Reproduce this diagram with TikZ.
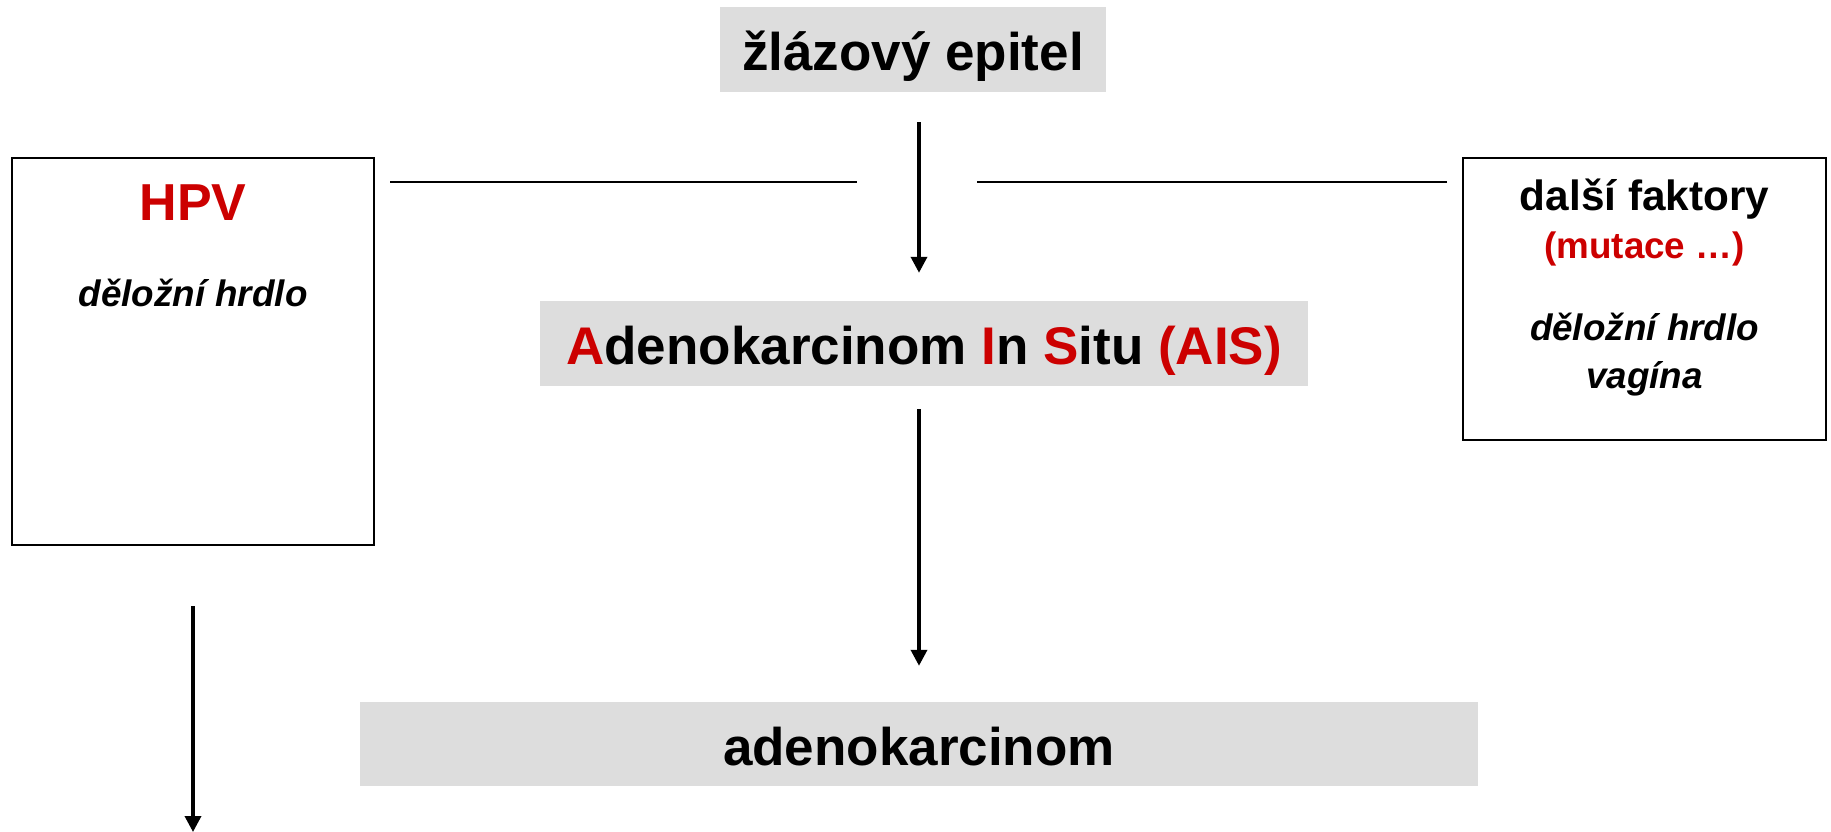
\documentclass[tikz,border=0pt]{standalone}
\usepackage{fontspec}
\setmainfont{Liberation Sans}
\usetikzlibrary{arrows.meta}
\definecolor{accent}{HTML}{CC0000}
\definecolor{panel}{HTML}{DDDDDD}
\newcommand\hl[1]{\textcolor{accent}{#1}}

\begin{document}
\begin{tikzpicture}[x=1pt,y=-1pt,
  stage/.style={fill=panel, draw=none, inner sep=0pt, align=center,
    font=\fontsize{53}{60}\selectfont\bfseries, text height=48pt, text depth=6pt},
  frame/.style={draw=black, line width=2pt, inner sep=0pt},
  flow/.style={line width=3.5pt, -{Triangle[width=16pt,length=16pt]}},
  link/.style={line width=2pt},
  big/.style={anchor=base, font=\fontsize{52}{60}\selectfont\bfseries},
  mid/.style={anchor=base, font=\fontsize{42.3}{50}\selectfont\bfseries},
  small/.style={anchor=base, font=\fontsize{36.8}{44}\selectfont\bfseries},
  site/.style={anchor=base, font=\fontsize{36.8}{44}\selectfont\bfseries\itshape}
]
\useasboundingbox (0,0) rectangle (1831,832);

% grey stage boxes
\node[stage, minimum width=386pt, minimum height=85pt] (epitel) at (913,49.5) {žlázový epitel};
\node[stage, minimum width=768pt, minimum height=85pt] (ais) at (924,343.5)
  {\hl{A}denokarcinom \hl{I}n \hl{S}itu \hl{(AIS)}};
\node[stage, minimum width=1118pt, minimum height=84pt] (adeno) at (919,744) {adenokarcinom};

% framed side boxes
\node[frame, minimum width=362pt, minimum height=387pt] (hpvbox) at (193,351.5) {};
\node[frame, minimum width=363pt, minimum height=282pt] (factorbox) at (1644.5,299) {};

% side box texts
\node[big, text=accent] (hpv) at (193,220) {HPV};
\node[site] (hpvsite) at (193,306) {děložní hrdlo};
\node[mid] (factors) at (1644.5,210) {další faktory};
\node[small, text=accent] (mutace) at (1644.5,258) {(mutace …)};
\node[site] (cervix) at (1644.5,340) {děložní hrdlo};
\node[site] (vagina) at (1644.5,388) {vagína};

% connectors: the main column runs straight down at x = 919
\coordinate (junction) at (919,182);
\coordinate (bottomend) at (193,832);
\draw[flow, shorten <=30pt, shorten >=28pt] (junction |- epitel.south) -- (junction |- ais.north);
\draw[flow, shorten <=23pt, shorten >=36pt] (junction |- ais.south) -- (junction |- adeno.north);
\draw[flow, shorten <=60pt] (hpvbox.south) -- (bottomend);
\draw[link, shorten <=15pt, shorten >=62pt] (hpvbox.east |- junction) -- (junction);
\draw[link, shorten <=15pt, shorten >=58pt] (factorbox.west |- junction) -- (junction);
\end{tikzpicture}
\end{document}
